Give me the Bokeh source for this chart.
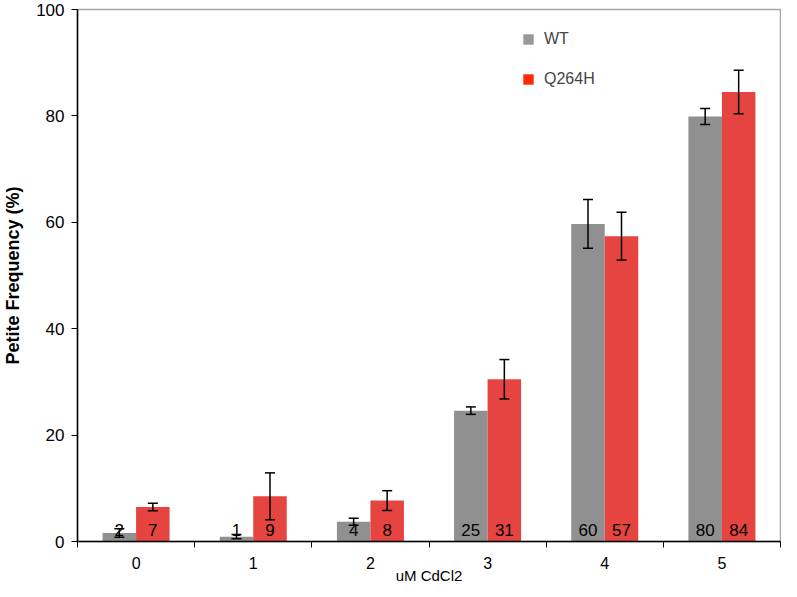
from bokeh.plotting import figure
from bokeh.models import (Range1d, FixedTicker, ColumnDataSource, Whisker, TeeHead, Legend,
                          LegendItem)
from bokeh.transform import dodge
from bokeh.embed import file_html
from bokeh.resources import INLINE
from bokeh.core.properties import value

categories = ["0", "1", "2", "3", "4", "5"]
wt_values = [1.6, 0.9, 3.7, 24.6, 59.7, 79.9]
wt_errors = [0.8, 0.4, 0.65, 0.7, 4.6, 1.5]
q264h_values = [6.5, 8.5, 7.7, 30.5, 57.4, 84.5]
q264h_errors = [0.7, 4.4, 1.85, 3.7, 4.5, 4.1]
wt_labels = ["2", "1", "4", "25", "60", "80"]
q264h_labels = ["7", "9", "8", "31", "57", "84"]
y_ticks = [0, 20, 40, 60, 80, 100]

FONT = "Liberation Sans"
WT_COLOR = "#909090"
Q_COLOR = "#e54441"
BAR_W = 0.286
OFF = 0.143

xc = [i + 0.5 for i in range(len(categories))]
src = ColumnDataSource(dict(
    xc=xc,
    wt=wt_values, wt_up=[v + e for v, e in zip(wt_values, wt_errors)],
    wt_lo=[v - e for v, e in zip(wt_values, wt_errors)],
    q=q264h_values, q_up=[v + e for v, e in zip(q264h_values, q264h_errors)],
    q_lo=[v - e for v, e in zip(q264h_values, q264h_errors)],
    wt_lab=wt_labels, q_lab=q264h_labels,
    zero=[0] * len(categories),
))

p = figure(width=781, height=592, output_backend="svg", toolbar_location=None,
           x_range=Range1d(0, len(categories)), y_range=Range1d(0, 100),
           min_border_left=67, min_border_right=1, min_border_top=9, min_border_bottom=51)
p.background_fill_color = "white"
p.border_fill_color = "white"
p.outline_line_color = "#a6a6a6"
p.outline_line_width = 1.5
p.grid.visible = False

p.vbar(x=dodge("xc", -OFF, range=p.x_range), top="wt", width=BAR_W, source=src,
       fill_color=WT_COLOR, line_color=None)
p.vbar(x=dodge("xc", OFF, range=p.x_range), top="q", width=BAR_W, source=src,
       fill_color=Q_COLOR, line_color=None)

for base_off, up, lo in [(-OFF, "wt_up", "wt_lo"), (OFF, "q_up", "q_lo")]:
    w = Whisker(base=dodge("xc", base_off, range=p.x_range), upper=up, lower=lo, source=src,
                line_color="black", line_width=1.5, level="overlay",
                upper_head=TeeHead(size=10, line_color="black", line_width=1.5),
                lower_head=TeeHead(size=10, line_color="black", line_width=1.5))
    p.add_layout(w)

for off, col in [(-OFF, "wt_lab"), (OFF, "q_lab")]:
    p.text(x=dodge("xc", off, range=p.x_range), y="zero", text=col, source=src,
           text_font=value(FONT), text_font_size="17px", text_color="black",
           text_align="center", text_baseline="alphabetic", y_offset=-12)

# legend: zero-size markers (invisible in the plot, drawn only as legend swatches)
r1 = p.scatter(x="xc", y="wt", source=src, size=0, marker="square",
               fill_color="#999999", line_color=None)
r2 = p.scatter(x="xc", y="q", source=src, size=0, marker="square",
               fill_color="#ff2a00", line_color=None)
legend = Legend(items=[LegendItem(label="WT", renderers=[r1]),
                       LegendItem(label="Q264H", renderers=[r2])],
                location=(438, 449), orientation="vertical",
                glyph_width=26, glyph_height=26, label_height=20, spacing=14,
                padding=0, margin=0, label_standoff=3,
                label_text_font=FONT, label_text_font_size="16px",
                border_line_color=None, background_fill_alpha=0)
p.add_layout(legend, "center")

# axes
xa = p.xaxis[0]
xa.ticker = FixedTicker(ticks=xc, minor_ticks=list(range(len(categories) + 1)))
xa.major_label_overrides = {x: c for x, c in zip(xc, categories)}
xa.major_tick_line_color = None
xa.major_tick_out = 0
xa.major_tick_in = 0
xa.minor_tick_in = 0
xa.minor_tick_out = 6
xa.minor_tick_line_color = "black"
xa.axis_line_color = "black"
xa.axis_line_width = 1.5
xa.major_label_standoff = 9
xa.major_label_text_font = FONT
xa.major_label_text_font_size = "16px"
xa.major_label_text_color = "black"
xa.axis_label = "uM CdCl2"
xa.axis_label_text_font = FONT
xa.axis_label_text_font_size = "15px"
xa.axis_label_text_font_style = "normal"
xa.axis_label_text_color = "black"
xa.axis_label_standoff = -5

ya = p.yaxis[0]
ya.ticker = FixedTicker(ticks=y_ticks)
ya.minor_tick_line_color = None
ya.major_tick_in = 0
ya.major_tick_out = 6
ya.major_tick_line_color = "black"
ya.axis_line_color = "black"
ya.axis_line_width = 1.5
ya.major_label_standoff = 7
ya.major_label_text_font = FONT
ya.major_label_text_font_size = "17px"
ya.major_label_text_color = "black"
ya.axis_label = "Petite Frequency (%)"
ya.axis_label_text_font = FONT
ya.axis_label_text_font_size = "18px"
ya.axis_label_text_font_style = "bold"
ya.axis_label_text_color = "black"
ya.axis_label_standoff = 10

open("out.html", "w").write(file_html(p, INLINE))
